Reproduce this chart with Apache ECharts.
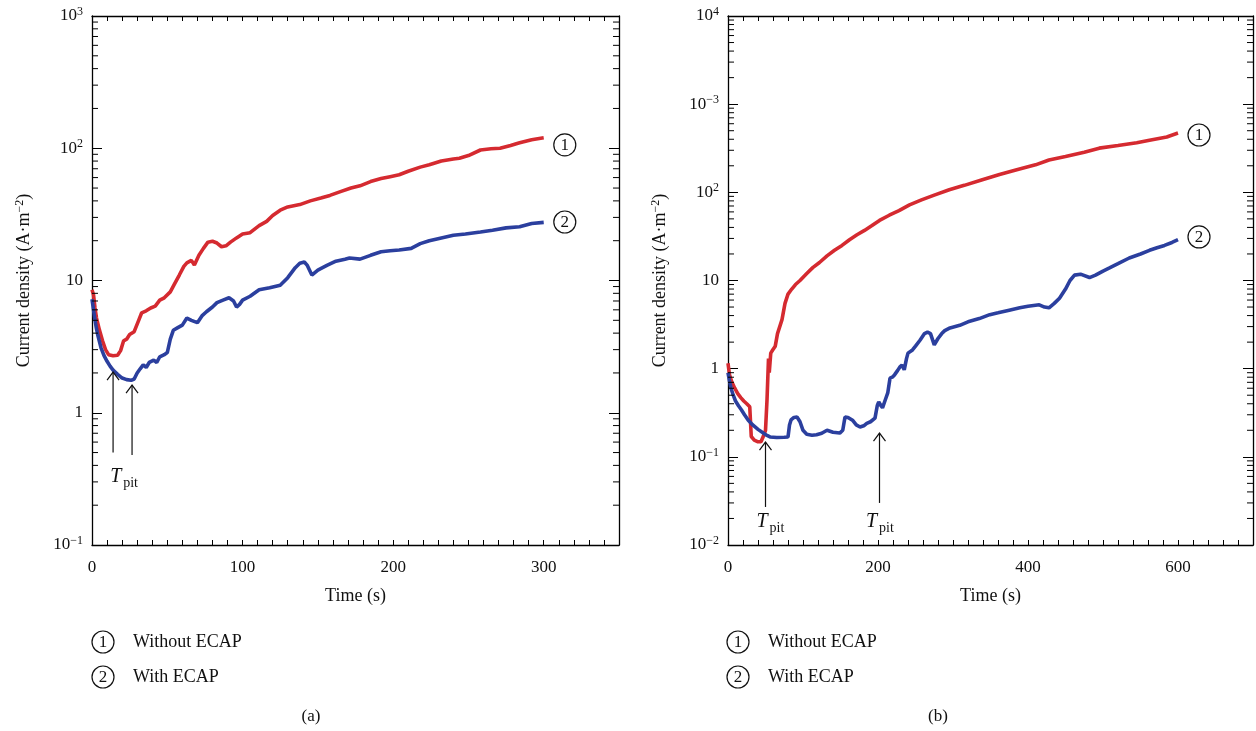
<!DOCTYPE html>
<html>
<head>
<meta charset="utf-8">
<script src="https://cdn.jsdelivr.net/npm/echarts@6/dist/echarts.min.js"></script>
<style>html,body{margin:0;padding:0;background:#fff;}#c{width:1256px;height:731px;}</style>
</head>
<body>
<div id="c"></div>
<script>
// ---------- DATA ----------
// Panel (a)
const aWithoutT = [0,1,2,3,5,7,9,11,14,17,19,21,23,25,28,31,33,36,39,42,45,48,52,55,58,61,63,66,68,71,74,77,80,83,86,89,92,96,100,105,111,116,120,125,130,138,145,152,158,165,172,178,185,192,198,204,210,218,224,232,240,244,250,258,265,271,278,284,292,300];
const aWithoutV = [8.5,7.8,6.2,5.2,4.2,3.5,3.0,2.75,2.7,2.72,2.95,3.5,3.6,3.9,4.1,5.0,5.7,5.9,6.2,6.4,7.1,7.4,8.2,9.5,11,12.8,13.6,14.2,13.1,15.5,17.5,19.5,19.8,19.2,18.0,18.3,19.5,21,22.5,23,26,28,31,34,36,37.5,40,42,44,47,50,52,56,59,61,63,67,72,75,80,83,84,88,97,99,100,105,110,116,120];
const aWithT = [0,1,2,3,4,6,8,10,12,14,17,20,23,26,28,30,32,34,36,38,41,43,45,48,50,52,54,57,60,63,66,70,73,76,80,83,87,91,94,96,98,100,105,111,118,125,130,135,138,141,143,146,150,156,162,168,171,178,185,192,198,204,212,218,224,232,240,248,258,266,275,284,292,300];
const aWithV = [7.2,6.0,5.0,4.3,3.8,3.1,2.7,2.45,2.25,2.1,1.95,1.83,1.78,1.76,1.8,2.0,2.15,2.3,2.2,2.4,2.5,2.4,2.65,2.75,2.85,3.6,4.2,4.4,4.6,5.2,5.0,4.8,5.4,5.8,6.3,6.8,7.1,7.4,7.0,6.3,6.6,7.1,7.6,8.5,8.8,9.2,10.5,12.5,13.5,13.8,13,11.0,12,13,14,14.5,14.8,14.5,15.5,16.5,16.8,17,17.5,19,20,21,22,22.5,23.3,24,25,25.5,27,27.5];
// Panel (b)
const bWithoutT = [0,2,5,9,13,17,21,25,29,30,31,35,40,44,47,50,52,54,55,57,60,63,66,69,72,76,80,85,90,96,105,113,122,132,142,152,162,172,182,192,202,215,228,242,258,275,295,315,338,362,385,410,428,450,475,495,520,545,562,585,600];
const bWithoutV = [1.15,0.85,0.71,0.6,0.52,0.47,0.43,0.4,0.37,0.37,0.17,0.155,0.148,0.148,0.17,0.2,0.44,1.3,0.9,1.5,1.65,1.8,2.5,3.0,3.6,5.5,7.0,8.0,9.0,10,12,14,16,19,22,25,29,33,37,42,48,55,62,72,82,93,107,120,138,159,180,205,233,255,285,317,340,365,390,425,470];
const bWithT = [0,2,4,7,10,14,18,22,27,33,40,47,52,56,65,75,80,82,84,88,92,96,100,105,112,118,125,132,140,149,153,156,160,166,171,176,181,185,190,196,199,201,204,206,210,213,216,219,222,226,229,232,235,238,240,246,250,256,262,266,270,275,280,285,289,296,309,320,335,349,360,375,389,400,415,422,428,435,442,450,456,462,470,482,490,500,508,520,535,550,562,572,582,592,600];
const bWithV = [0.9,0.72,0.6,0.5,0.43,0.38,0.34,0.3,0.26,0.23,0.205,0.186,0.175,0.168,0.166,0.167,0.168,0.23,0.262,0.28,0.283,0.25,0.2,0.18,0.176,0.178,0.185,0.2,0.19,0.186,0.2,0.283,0.28,0.26,0.23,0.218,0.225,0.24,0.25,0.275,0.38,0.42,0.38,0.36,0.45,0.53,0.78,0.8,0.85,0.95,1.04,1.1,0.97,1.3,1.5,1.63,1.8,2.1,2.5,2.6,2.5,1.86,2.2,2.5,2.7,2.9,3.1,3.4,3.7,4.1,4.3,4.6,4.9,5.1,5.3,5.0,4.9,5.5,6.3,8,10,11.5,11.8,10.8,11.5,12.8,13.8,15.5,18,20,22,23.5,25,27,29];

// Tick labels (log decades, from lowest)
const aYTickLabels = ['10{sup|−1}','1','10','10{sup|2}','10{sup|3}'];
const bYTickLabels = ['10{sup|−2}','10{sup|−1}','1','10','10{sup|2}','10{sup|−3}','10{sup|4}'];
const aXTickLabels = ['0','100','200','300'];
const bXTickLabels = ['0','200','400','600'];

// Annotations: arrows [t, from value, to value], T_pit label [t, value], end marks [t, value]
const aArrowT = [14, 26.6], aArrowFrom = [0.5, 0.48], aArrowTo = [2.03, 1.62];
const aPitT = [22], aPitV = [0.327];
const bArrowT = [50, 202], bArrowFrom = [0.027, 0.030], bArrowTo = [0.147, 0.186];
const bPitT = [58, 204], bPitV = [0.0182, 0.0182];
const aMarkT = [314, 314], aMarkV = [106, 27.7], markLabels = ['1','2'];
const bMarkT = [628, 628], bMarkV = [447, 31.2];
const legendLabels = ['Without ECAP','With ECAP'];

// ---------- CHART ----------
const FONT = '"Liberation Serif","DejaVu Serif",serif';
const RED = '#d52a30', BLUE = '#2b3f9e';
const supRich = {sup:{fontSize:12, fontFamily:FONT, color:'#111', verticalAlign:'top', padding:[0,0,8,0]}};

function zip(t, v){ return t.map((x,i)=>[x, v[i]]); }

function xAxes(gi, max, interval, labelStep, labels){
  const base = {
    type:'value', gridIndex:gi, min:0, max:max, interval:interval,
    axisLine:{show:true, onZero:false, lineStyle:{color:'#000', width:1.3}},
    axisTick:{show:true, inside:true, length:5, lineStyle:{color:'#000', width:1}},
    splitLine:{show:false}
  };
  return [
    Object.assign({}, base, {position:'bottom', name:'Time (s)', nameLocation:'middle', nameGap:42,
      nameTextStyle:{fontFamily:FONT, fontSize:18, color:'#111'},
      axisLabel:{show:true, margin:14, fontFamily:FONT, fontSize:17, color:'#111',
        formatter:function(v){ const k=Math.round(v/labelStep); return (Math.abs(v-k*labelStep)<1e-6 && k<labels.length)? labels[k] : ''; }}}),
    Object.assign({}, base, {position:'top', axisLabel:{show:false}})
  ];
}
function yAxes(gi, min, max, labels, minExp){
  const base = {
    type:'log', logBase:10, gridIndex:gi, min:min, max:max, splitNumber:labels.length-1,
    axisLine:{show:true, onZero:false, lineStyle:{color:'#000', width:1.3}},
    axisTick:{show:true, inside:true, length:10, lineStyle:{color:'#000', width:1}},
    splitLine:{show:false}
  };
  return [
    Object.assign({}, base, {position:'left', name:'Current density (A·m{sup|−2})', nameLocation:'middle', nameGap:58, nameRotate:90,
      nameTextStyle:{fontFamily:FONT, fontSize:18, color:'#111', rich:{sup:{fontSize:12, fontFamily:FONT, color:'#111', verticalAlign:'top', padding:[0,0,8,0]}}},
      axisLabel:{show:true, margin:9, fontFamily:FONT, fontSize:17, color:'#111', rich:supRich,
        formatter:function(v){ const e=Math.round(Math.log10(v)); return labels[e-minExp] || ''; }}}),
    Object.assign({}, base, {position:'right', axisLabel:{show:false}})
  ];
}

function minorTickData(minExp, maxExp){
  const out=[];
  for(let e=minExp;e<maxExp;e++){ for(let k=2;k<=9;k++){ out.push([0, k*Math.pow(10,e)]); } }
  return out;
}
function minorTickSeries(xi, yi, minExp, maxExp){
  return {type:'custom', xAxisIndex:xi, yAxisIndex:yi, silent:true, clip:false, z:5,
    data:minorTickData(minExp,maxExp),
    renderItem:function(params, api){
      const cs = params.coordSys;
      const y = api.coord([api.value(0), api.value(1)])[1];
      const L = 6, st = {stroke:'#000', lineWidth:1};
      return {type:'group', children:[
        {type:'line', shape:{x1:cs.x, y1:y, x2:cs.x+L, y2:y}, style:st},
        {type:'line', shape:{x1:cs.x+cs.width-L, y1:y, x2:cs.x+cs.width, y2:y}, style:st}
      ]};
    }};
}
function arrowSeries(xi, yi, T, F, To){
  return {type:'custom', xAxisIndex:xi, yAxisIndex:yi, silent:true, clip:false, z:6,
    data:T.map((t,i)=>[t, F[i], To[i]]),
    renderItem:function(params, api){
      const p1 = api.coord([api.value(0), api.value(1)]);
      const p2 = api.coord([api.value(0), api.value(2)]);
      const st = {stroke:'#111', lineWidth:1.2, fill:null};
      return {type:'group', children:[
        {type:'line', shape:{x1:p1[0], y1:p1[1], x2:p2[0], y2:p2[1]}, style:st},
        {type:'polyline', shape:{points:[[p2[0]-6,p2[1]+8],[p2[0],p2[1]],[p2[0]+6,p2[1]+8]]}, style:st}
      ]};
    }};
}
function pitSeries(xi, yi, T, V){
  return {type:'custom', xAxisIndex:xi, yAxisIndex:yi, silent:true, clip:false, z:6,
    data:T.map((t,i)=>[t, V[i]]),
    renderItem:function(params, api){
      const p = api.coord([api.value(0), api.value(1)]);
      return {type:'group', children:[
        {type:'text', style:{text:'T', x:p[0]-15, y:p[1], align:'left', verticalAlign:'middle', fontFamily:FONT, fontSize:20, fontStyle:'italic', fill:'#111'}},
        {type:'text', style:{text:'pit', x:p[0]-2, y:p[1]+6, align:'left', verticalAlign:'middle', fontFamily:FONT, fontSize:14, fill:'#111'}}
      ]};
    }};
}
function markSeries(xi, yi, T, V){
  return {type:'custom', xAxisIndex:xi, yAxisIndex:yi, silent:true, clip:false, z:6,
    data:T.map((t,i)=>[t, V[i]]),
    renderItem:function(params, api){
      const p = api.coord([api.value(0), api.value(1)]);
      return {type:'group', children:[
        {type:'circle', shape:{cx:p[0], cy:p[1], r:11}, style:{fill:'#fff', stroke:'#111', lineWidth:1.2}},
        {type:'text', style:{text:markLabels[params.dataIndex], x:p[0], y:p[1]+1, align:'center', verticalAlign:'middle', fontFamily:FONT, fontSize:17, fill:'#111'}}
      ]};
    }};
}
function lineSeries(name, xi, yi, t, v, color){
  return {type:'line', name:name, xAxisIndex:xi, yAxisIndex:yi, data:zip(t,v), showSymbol:false, symbol:'none',
    lineStyle:{color:color, width:3.6}, itemStyle:{color:color}, animation:false, z:3};
}

function legendGraphic(x0){
  const els=[];
  [642, 677].forEach((y,i)=>{
    els.push({type:'circle', shape:{cx:x0+13, cy:y, r:11}, style:{fill:'#fff', stroke:'#111', lineWidth:1.2}});
    els.push({type:'text', x:x0+13, y:y+1, style:{text:markLabels[i], align:'center', verticalAlign:'middle', font:'17px '+FONT, fill:'#111'}});
    els.push({type:'text', x:x0+43, y:y, style:{text:legendLabels[i], align:'left', verticalAlign:'middle', font:'18px '+FONT, fill:'#111'}});
  });
  return els;
}

const chart = echarts.init(document.getElementById('c'), null, {renderer:'canvas'});
chart.setOption({
  backgroundColor:'#fff',
  animation:false,
  grid:[
    {left:92, top:16, width:527, height:529},
    {left:728, top:16, width:526, height:529}
  ],
  xAxis:[].concat(xAxes(0, 350, 10, 100, aXTickLabels), xAxes(1, 700, 20, 200, bXTickLabels)),
  yAxis:[].concat(yAxes(0, 0.1, 1000, aYTickLabels, -1), yAxes(1, 0.01, 10000, bYTickLabels, -2)),
  series:[
    lineSeries('Without ECAP (a)', 0, 0, aWithoutT, aWithoutV, RED),
    lineSeries('With ECAP (a)', 0, 0, aWithT, aWithV, BLUE),
    lineSeries('Without ECAP (b)', 2, 2, bWithoutT, bWithoutV, RED),
    lineSeries('With ECAP (b)', 2, 2, bWithT, bWithV, BLUE),
    minorTickSeries(0, 0, -1, 3),
    minorTickSeries(2, 2, -2, 4),
    arrowSeries(0, 0, aArrowT, aArrowFrom, aArrowTo),
    arrowSeries(2, 2, bArrowT, bArrowFrom, bArrowTo),
    pitSeries(0, 0, aPitT, aPitV),
    pitSeries(2, 2, bPitT, bPitV),
    markSeries(0, 0, aMarkT, aMarkV),
    markSeries(2, 2, bMarkT, bMarkV)
  ],
  graphic:[].concat(legendGraphic(90), legendGraphic(725), [
    {type:'text', x:311, y:717, style:{text:'(a)', align:'center', verticalAlign:'middle', font:'17px '+FONT, fill:'#111'}},
    {type:'text', x:938, y:717, style:{text:'(b)', align:'center', verticalAlign:'middle', font:'17px '+FONT, fill:'#111'}}
  ])
});
</script>
</body>
</html>
